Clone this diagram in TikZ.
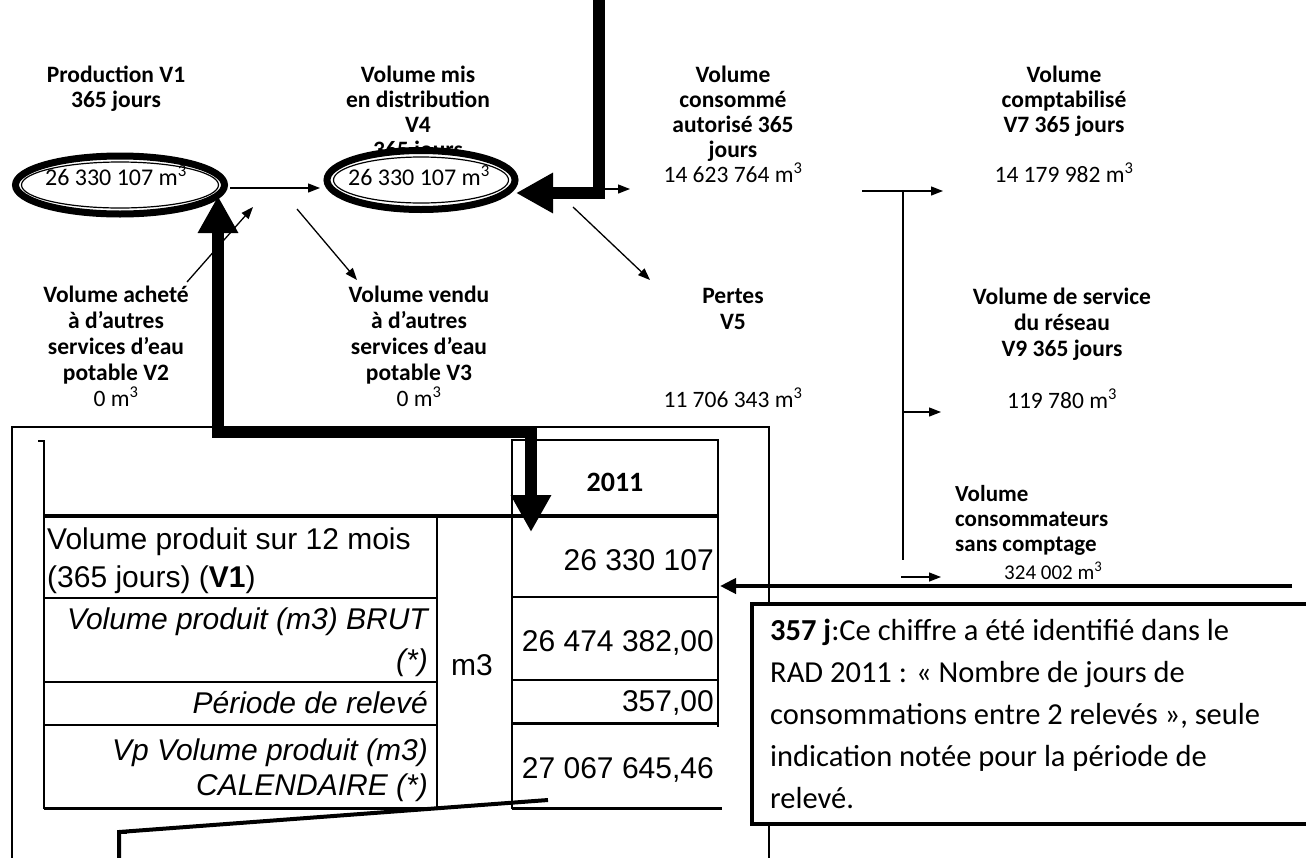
\documentclass[tikz,border=0pt]{standalone}
\usepackage{fontspec}
\setmainfont{Carlito}
\newfontfamily\tabf{Liberation Sans}
\usetikzlibrary{arrows.meta,shapes.geometric}
\begin{document}
\begin{tikzpicture}[x=1pt,y=-1pt,
  lab/.style={font=\bfseries\fontsize{23.5}{25}\selectfont, align=center, inner sep=0pt, anchor=north},
  labl/.style={lab, font=\bfseries\fontsize{23.5}{26}\selectfont},
  val/.style={font=\fontsize{24}{25}\selectfont, inner sep=0pt},
  flow/.style={line width=1.3pt, -{Triangle[length=12pt,width=9pt]}},
  fat/.style={line width=12pt, -{Triangle[length=37pt,width=38pt]}},
  fatboth/.style={line width=12pt, {Triangle[length=37pt,width=38pt]}-{Triangle[length=37pt,width=38pt]}},
  ring/.style={ellipse, draw, line width=7pt, fill=white, inner sep=0pt},
  tab/.style={font=\tabf\fontsize{30}{36}\selectfont, inner sep=0pt},
  tabi/.style={font=\tabf\itshape\fontsize{30}{36}\selectfont, inner sep=0pt, anchor=east},
  tabv/.style={font=\tabf\fontsize{30}{36}\selectfont, inner sep=0pt, anchor=east},
  grid/.style={line width=2.5pt},
  note/.style={font=\fontsize{30.5}{42}\selectfont, align=left, inner sep=0pt, anchor=north west},
  callout/.style={line width=4pt, line join=miter}
]
\useasboundingbox[fill=white] (0,0) rectangle (1306,857);

% ---------- upper labels ----------
\node[lab] (lprod) at (116,66) {Production V1\\365 jours};
\node[lab] (lmis) at (418,66) {Volume mis\\en distribution\\V4\\365 jours};
\node[lab] (lcons) at (733,66) {Volume\\consommé\\autorisé 365\\jours\\{\mdseries 14 623 764 m\textsuperscript{3}}};
\node[lab] (lcompt) at (1064,66) {Volume\\comptabilisé\\V7 365 jours\\[25pt]{\mdseries 14 179 982 m\textsuperscript{3}}};

% ---------- ellipses ----------
\node[ring, minimum width=209pt, minimum height=58pt] (e1) at (120,185) {};
\draw[line width=1.2pt] (e1.center) ellipse [x radius=98.5, y radius=23];
\node[val] (e1t) at (116,176) {26 330 107 m\textsuperscript{3}};
\node[ring, minimum width=188pt, minimum height=59pt] (e2) at (421,180) {};
\draw[line width=1.2pt] (e2.center) ellipse [x radius=87.5, y radius=23];
\node[val] (e2t) at (419,176) {26 330 107 m\textsuperscript{3}};

% ---------- lower labels ----------
\node[labl] (lach) at (116,286) {Volume acheté\\à d’autres\\services d’eau\\potable V2\\{\mdseries 0 m\textsuperscript{3}}};
\node[labl] (lvend) at (419,286) {Volume vendu\\à d’autres\\services d’eau\\potable V3\\{\mdseries 0 m\textsuperscript{3}}};
\node[labl] (lpert) at (733,288) {Pertes\\V5\\[52pt]{\mdseries 11 706 343 m\textsuperscript{3}}};
\node[labl] (lserv) at (1062,288) {Volume de service\\du réseau\\V9 365 jours\\[26pt]{\mdseries 119 780 m\textsuperscript{3}}};
\node[lab, font=\bfseries\fontsize{23}{25}\selectfont, align=left, anchor=north west] (lsans) at (955,485) {Volume\\consommateurs\\sans comptage};
\node[val, font=\fontsize{21}{24}\selectfont, anchor=west] (lsansv) at (1004,571) {324 002 m\textsuperscript{3}};

% ---------- thin connectors ----------
\coordinate (a1s) at (230,188); \coordinate (a1e) at (320,188);
\draw[flow] (a1s) -- (a1e);
\coordinate (a2s) at (187,282); \coordinate (a2e) at (253,207);
\draw[flow] (a2s) -- (a2e);
\coordinate (a3s) at (297,209); \coordinate (a3e) at (357,280);
\draw[flow] (a3s) -- (a3e);
\coordinate (a4s) at (573,207); \coordinate (a4e) at (650,280);
\draw[flow] (a4s) -- (a4e);
\coordinate (a5s) at (603,189); \coordinate (a5e) at (630,189);
\draw[flow] (a5s) -- (a5e);
\coordinate (a6s) at (862,191); \coordinate (a6e) at (943,191);
\draw[flow] (a6s) -- (a6e);
\coordinate (vtop) at (903,191); \coordinate (vbot) at (903,560);
\draw[line width=1.3pt] (vtop) -- (vbot);
\coordinate (a7s) at (903,412); \coordinate (a7e) at (941,412);
\draw[flow] (a7s) -- (a7e);
\coordinate (a8s) at (901,577); \coordinate (a8e) at (941,577);
\draw[flow] (a8s) -- (a8e);

% ---------- outer frame ----------
\draw[line width=1.8pt] (12,880) -- (12,427) -- (769,427) -- (769,880);

% ---------- table ----------
\draw[grid] (512,440) rectangle (718,516);
\draw[grid] (38,441) -- (44,441) -- (44,516);
\draw[grid] (44,516) -- (44,809);
\draw[grid] (437,516) -- (437,809);
\draw[grid] (512,516) -- (512,809);
\draw[grid] (718,516) -- (718,727);
\draw[grid] (44,598) -- (437,598);
\draw[grid] (44,682) -- (437,682);
\draw[grid] (44,725) -- (437,725);
\draw[line width=3pt] (44,808) -- (437,808);
\draw[grid] (512,597) -- (718,597);
\draw[grid] (512,680) -- (718,680);
\draw[line width=3pt] (512,723) -- (718,723);
\draw[line width=3pt] (512,808) -- (722,808);
\draw[line width=3.5pt] (44,516) -- (718,516);

\node[font=\bfseries\fontsize{28}{30}\selectfont, inner sep=0pt] (y2011) at (615,482) {2011};
\node[tab, anchor=west] (r1a) at (47,542) {Volume produit sur 12 mois};
\node[tab, anchor=west] (r1b) at (47,580) {(365 jours) (\textbf{V1})};
\node[tabi] (r2a) at (428,622) {Volume produit (m3) BRUT};
\node[tabi] (r2b) at (428,663) {(*)};
\node[tabi] (r3) at (428,703) {Période de relevé};
\node[tabi] (r4a) at (428,753) {Vp Volume produit (m3)};
\node[tabi] (r4b) at (428,788) {CALENDAIRE (*)};
\node[tab] (unit) at (472,665) {m3};
\node[tabv] (v1) at (714,560) {26 330 107};
\node[tabv] (v2) at (714,643) {26 474 382,00};
\node[tabv] (v3) at (714,703) {357,00};
\node[tabv] (v4) at (714,770) {27 067 645,46};

% ---------- thick connectors ----------
\coordinate (tA) at (599,-10); \coordinate (tB) at (599,193); \coordinate (tC) at (516,193);
\draw[fat] (tA) -- (tB) -- (tC);
\coordinate (uA) at (531,532); \coordinate (uB) at (531,432); \coordinate (uC) at (218,432); \coordinate (uD) at (218,196);
\draw[fatboth] (uA) -- (uB) -- (uC) -- (uD);

% ---------- note box ----------
\node[draw, line width=4pt, fill=white, anchor=north west, minimum width=580pt, minimum height=220pt, inner sep=0pt] (nbox) at (750,602) {};
\node[note] (ntext) at (770,619) {\textbf{357 j}:Ce chiffre a été identifié dans le\\RAD 2011 : « Nombre de jours de\\consommations entre 2 relevés », seule\\indication notée pour la période de\\relevé.};
\coordinate (lrs) at (1292,586); \coordinate (lre) at (720,586);
\draw[line width=4pt, -{Triangle[length=16pt,width=15pt]}] (lrs) -- (lre);

% ---------- lower callout ----------
\coordinate (cs) at (548,800); \coordinate (cc) at (119,832); \coordinate (cb) at (119,880);
\draw[callout] (cs) -- (cc) -- (cb);
\draw[callout] (cc) -- ++(8,0);
\end{tikzpicture}
\end{document}
